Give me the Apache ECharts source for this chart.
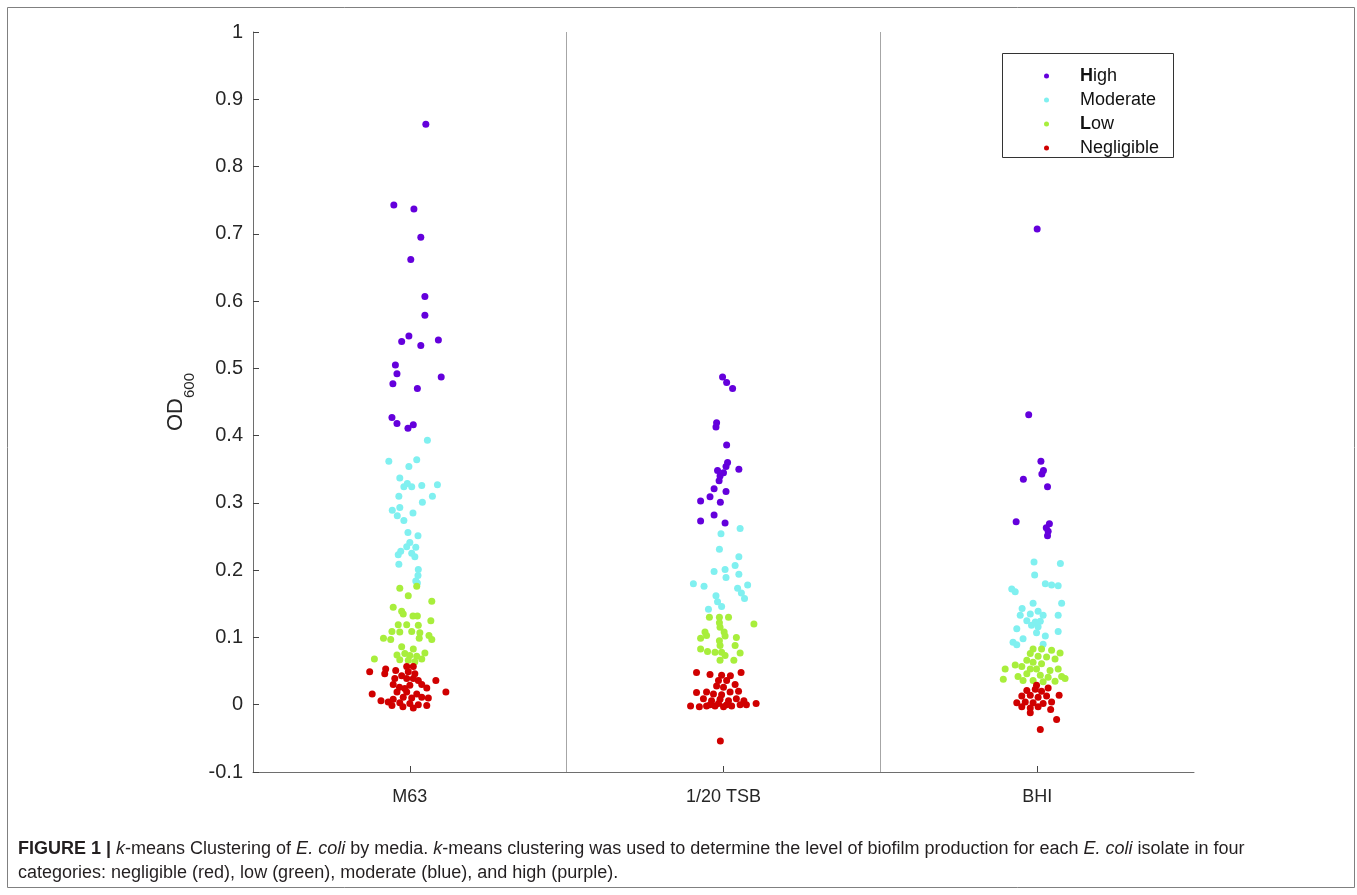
<!DOCTYPE html>
<html>
<head>
<meta charset="utf-8">
<script src="https://cdn.jsdelivr.net/npm/echarts@6/dist/echarts.min.js"></script>
<style>
html,body{margin:0;padding:0;background:#fff;}
#chart{width:1357px;height:895px;}
</style>
</head>
<body>
<div id="chart"></div>
<script>
// ---- data (jitter in category units, OD600 value) ----
var categories = ['M63', '1/20 TSB', 'BHI'];
var classNames = ['High', 'Moderate', 'Low', 'Negligible'];
var yTicks = [-0.1, 0, 0.1, 0.2, 0.3, 0.4, 0.5, 0.6, 0.7, 0.8, 0.9, 1];

var m63High = [[0.051,0.863],[-0.051,0.743],[0.013,0.737],[0.035,0.695],[0.003,0.662],[0.048,0.607],[0.048,0.579],[-0.003,0.548],[-0.026,0.540],[0.091,0.542],[0.035,0.534],[-0.046,0.505],[-0.041,0.492],[0.100,0.487],[-0.054,0.477],[0.024,0.470],[-0.057,0.427],[-0.041,0.418],[-0.006,0.411],[0.011,0.416]];
var m63Moderate = [[0.056,0.393],[-0.067,0.362],[0.022,0.364],[-0.003,0.354],[-0.032,0.337],[-0.008,0.329],[-0.019,0.324],[0.006,0.324],[0.038,0.326],[0.088,0.327],[-0.035,0.310],[0.072,0.310],[0.040,0.301],[-0.032,0.293],[-0.056,0.289],[0.010,0.285],[-0.040,0.281],[-0.019,0.274],[-0.006,0.256],[0.026,0.251],[0.000,0.241],[-0.010,0.235],[0.019,0.234],[-0.029,0.228],[0.006,0.225],[-0.037,0.223],[0.016,0.220],[-0.035,0.209],[0.027,0.201],[0.026,0.192],[0.019,0.184],[0.024,0.181]];
var m63Low = [[-0.032,0.173],[0.022,0.176],[-0.005,0.162],[0.070,0.154],[-0.053,0.145],[-0.026,0.139],[-0.021,0.135],[0.010,0.132],[0.024,0.132],[0.067,0.125],[-0.037,0.119],[-0.010,0.119],[0.027,0.118],[-0.057,0.109],[-0.032,0.108],[0.006,0.109],[0.032,0.107],[-0.084,0.099],[-0.061,0.097],[0.030,0.099],[0.061,0.103],[0.070,0.097],[-0.026,0.086],[0.011,0.083],[0.048,0.077],[-0.041,0.074],[-0.016,0.076],[0.000,0.073],[0.022,0.072],[-0.113,0.068],[-0.032,0.067],[-0.005,0.066],[0.016,0.064],[0.038,0.068]];
var m63Negligible = [[-0.128,0.049],[-0.077,0.053],[-0.080,0.046],[-0.045,0.051],[-0.010,0.057],[0.011,0.057],[-0.005,0.049],[0.016,0.046],[-0.048,0.039],[-0.010,0.039],[0.027,0.036],[0.083,0.036],[-0.053,0.030],[-0.033,0.026],[0.000,0.029],[0.038,0.030],[0.054,0.025],[0.115,0.019],[-0.041,0.019],[-0.010,0.019],[0.022,0.016],[-0.120,0.016],[-0.021,0.011],[0.006,0.010],[0.038,0.011],[0.059,0.010],[-0.092,0.006],[-0.069,0.004],[-0.053,0.008],[-0.032,0.003],[0.000,0.002],[0.027,0.000],[0.054,-0.001],[-0.022,-0.003],[-0.057,-0.001],[0.011,-0.005],[-0.016,0.024],[0.011,0.039],[-0.026,0.043]];

var tsbHigh = [[-0.003,0.487],[0.010,0.479],[0.029,0.470],[-0.022,0.419],[-0.024,0.413],[0.010,0.386],[0.013,0.360],[0.008,0.354],[0.049,0.350],[-0.019,0.348],[0.000,0.345],[-0.011,0.340],[-0.014,0.333],[-0.030,0.321],[0.008,0.317],[-0.043,0.309],[-0.073,0.303],[-0.010,0.301],[-0.030,0.282],[-0.073,0.273],[0.005,0.270]];
var tsbModerate = [[0.053,0.262],[-0.008,0.254],[-0.013,0.231],[0.049,0.220],[0.037,0.207],[-0.030,0.198],[0.005,0.201],[0.049,0.194],[0.008,0.189],[-0.096,0.180],[-0.062,0.176],[0.077,0.178],[0.045,0.173],[0.057,0.166],[0.067,0.158],[-0.024,0.162],[-0.019,0.153],[-0.006,0.146],[-0.048,0.142]];
var tsbLow = [[-0.045,0.130],[-0.013,0.130],[0.016,0.130],[0.097,0.120],[-0.013,0.122],[-0.011,0.115],[-0.059,0.108],[-0.073,0.099],[-0.054,0.103],[0.002,0.108],[0.005,0.102],[-0.013,0.095],[0.041,0.100],[0.037,0.088],[-0.011,0.088],[-0.073,0.083],[-0.051,0.079],[-0.027,0.078],[-0.006,0.078],[0.005,0.073],[0.053,0.077],[-0.011,0.066],[0.033,0.066]];
var tsbNegligible = [[-0.086,0.048],[-0.043,0.045],[-0.006,0.044],[0.022,0.043],[0.056,0.048],[-0.016,0.036],[0.010,0.036],[0.037,0.030],[-0.022,0.028],[0.000,0.026],[-0.086,0.018],[-0.054,0.019],[-0.032,0.016],[-0.006,0.015],[0.021,0.019],[0.048,0.020],[-0.064,0.009],[-0.038,0.006],[-0.011,0.008],[0.016,0.006],[0.041,0.009],[0.065,0.006],[-0.105,-0.002],[-0.077,-0.003],[-0.054,-0.002],[-0.027,-0.002],[0.000,-0.003],[0.026,-0.002],[0.053,0.000],[0.073,0.000],[0.104,0.002],[-0.043,0.000],[-0.016,0.002],[0.010,0.000],[-0.010,-0.054]];

var bhiHigh = [[0.000,0.707],[-0.027,0.431],[0.012,0.362],[0.020,0.348],[0.015,0.343],[-0.044,0.335],[0.033,0.324],[-0.067,0.272],[0.039,0.269],[0.029,0.263],[0.035,0.258],[0.033,0.251]];
var bhiModerate = [[-0.010,0.212],[0.074,0.210],[-0.008,0.193],[-0.081,0.172],[-0.070,0.168],[0.026,0.180],[0.046,0.178],[0.067,0.177],[-0.013,0.151],[0.078,0.151],[-0.048,0.143],[0.003,0.139],[-0.054,0.133],[-0.022,0.135],[0.019,0.133],[0.067,0.133],[-0.033,0.125],[-0.006,0.123],[0.010,0.124],[-0.018,0.118],[0.003,0.116],[-0.065,0.113],[0.067,0.109],[-0.002,0.107],[-0.045,0.098],[0.026,0.102],[-0.077,0.093],[-0.065,0.089],[0.019,0.090]];
var bhiLow = [[-0.013,0.083],[0.014,0.083],[0.046,0.081],[0.073,0.077],[-0.022,0.076],[0.003,0.072],[0.030,0.071],[0.057,0.068],[-0.033,0.066],[-0.013,0.063],[0.014,0.061],[-0.070,0.059],[-0.049,0.057],[-0.102,0.053],[-0.022,0.053],[-0.002,0.053],[0.067,0.053],[0.041,0.051],[-0.033,0.046],[-0.061,0.042],[0.010,0.044],[0.035,0.041],[0.078,0.042],[-0.108,0.038],[-0.045,0.036],[-0.013,0.036],[0.019,0.034],[0.057,0.035],[0.089,0.039]];
var bhiNegligible = [[-0.002,0.029],[-0.033,0.021],[-0.006,0.023],[0.014,0.020],[0.035,0.025],[-0.049,0.013],[-0.022,0.014],[0.003,0.011],[0.030,0.013],[0.070,0.014],[-0.065,0.003],[-0.038,0.004],[-0.013,0.003],[0.019,0.002],[0.046,0.004],[-0.049,-0.003],[-0.022,-0.005],[0.003,-0.003],[0.043,-0.007],[-0.022,-0.012],[0.062,-0.022],[0.010,-0.037]];

// ---- build ----
var groups = {
  High: [m63High, tsbHigh, bhiHigh],
  Moderate: [m63Moderate, tsbModerate, bhiModerate],
  Low: [m63Low, tsbLow, bhiLow],
  Negligible: [m63Negligible, tsbNegligible, bhiNegligible]
};
var colors = { High: '#6400dc', Moderate: '#80f0f0', Low: '#a8ee3c', Negligible: '#d00000' };

function toPoints(list) {
  var out = [];
  list.forEach(function (arr, ci) {
    arr.forEach(function (p) { out.push([ci + 1 + p[0], p[1]]); });
  });
  return out;
}

var series = classNames.map(function (name) {
  return {
    name: name,
    type: 'scatter',
    xAxisIndex: 1,
    yAxisIndex: 0,
    symbol: 'circle',
    symbolSize: 7,
    itemStyle: { color: colors[name], opacity: 1 },
    emphasis: { disabled: true },
    data: toPoints(groups[name])
  };
});

var FONT = 'Liberation Sans, Arial, sans-serif';
var chart = echarts.init(document.getElementById('chart'), null, { renderer: 'canvas' });

chart.setOption({
  animation: false,
  backgroundColor: '#fff',
  grid: { left: 253, right: 163, top: 32, bottom: 123, containLabel: false },
  xAxis: [
    {
      type: 'category',
      data: categories,
      boundaryGap: true,
      axisLine: { show: true, onZero: false, lineStyle: { color: '#6e6e6e', width: 1 } },
      axisTick: { show: true, alignWithLabel: true, inside: true, length: 6, lineStyle: { color: '#444' } },
      axisLabel: { fontSize: 18, color: '#262626', fontFamily: FONT, margin: 16 },
      splitLine: { show: true, showMinLine: false, showMaxLine: false, lineStyle: { color: '#a6a6a6', width: 1 } }
    },
    { type: 'value', min: 0.5, max: 3.5, show: false }
  ],
  yAxis: [{
    type: 'value',
    min: -0.1,
    max: 1,
    interval: 0.1,
    axisLine: { show: true, onZero: false, lineStyle: { color: '#6e6e6e', width: 1 } },
    axisTick: { show: true, inside: true, length: 6, lineStyle: { color: '#444' } },
    axisLabel: { fontSize: 20, color: '#262626', fontFamily: FONT, margin: 10 },
    splitLine: { show: false },
    name: '{m|OD}{s|600}',
    nameLocation: 'middle',
    nameRotate: 90,
    nameGap: 62,
    nameTextStyle: {
      rich: {
        m: { fontSize: 22, fontFamily: FONT, color: '#262626', verticalAlign: 'top', lineHeight: 26 },
        s: { fontSize: 15, fontFamily: FONT, color: '#262626', verticalAlign: 'top', lineHeight: 15, padding: [17, 0, 0, 0] }
      }
    }
  }],
  legend: {
    data: classNames,
    orient: 'vertical',
    left: 1039,
    top: 61,
    icon: 'circle',
    itemWidth: 5,
    itemHeight: 5,
    itemGap: 4,
    selectedMode: false,
    textStyle: { fontSize: 18, lineHeight: 20, fontFamily: FONT, color: '#111', padding: [0, 0, 0, 26],
      rich: { b: { fontWeight: 'bold', fontSize: 18, fontFamily: FONT, color: '#111' } } },
    formatter: function (name) {
      if (name === 'High' || name === 'Low') return '{b|' + name.charAt(0) + '}' + name.slice(1);
      return name;
    }
  },
  graphic: [
    { type: 'rect', shape: { x: 7.5, y: 7.5, width: 1347, height: 880 }, style: { fill: 'none', stroke: '#808080', lineWidth: 1 }, silent: true, z: -1 },
    { type: 'rect', shape: { x: 1002.5, y: 53.5, width: 171, height: 104 }, style: { fill: 'none', stroke: '#333', lineWidth: 1 }, silent: true },
    {
      type: 'text', left: 18, top: 840, silent: true,
      style: {
        text: '{b|FIGURE 1 |} {i|k}-means Clustering of {i|E. coli} by media. {i|k}-means clustering was used to determine the level of biofilm production for each {i|E. coli} isolate in four',
        font: '18px ' + FONT, fill: '#231f20',
        rich: {
          b: { fontWeight: 'bold', fontSize: 18, fontFamily: FONT, fill: '#231f20' },
          i: { fontStyle: 'italic', fontSize: 18, fontFamily: FONT, fill: '#231f20' }
        }
      }
    },
    {
      type: 'text', left: 18, top: 864, silent: true,
      style: { text: 'categories: negligible (red), low (green), moderate (blue), and high (purple).', font: '18px ' + FONT, fill: '#231f20' }
    }
  ],
  series: series
});
</script>
</body>
</html>
